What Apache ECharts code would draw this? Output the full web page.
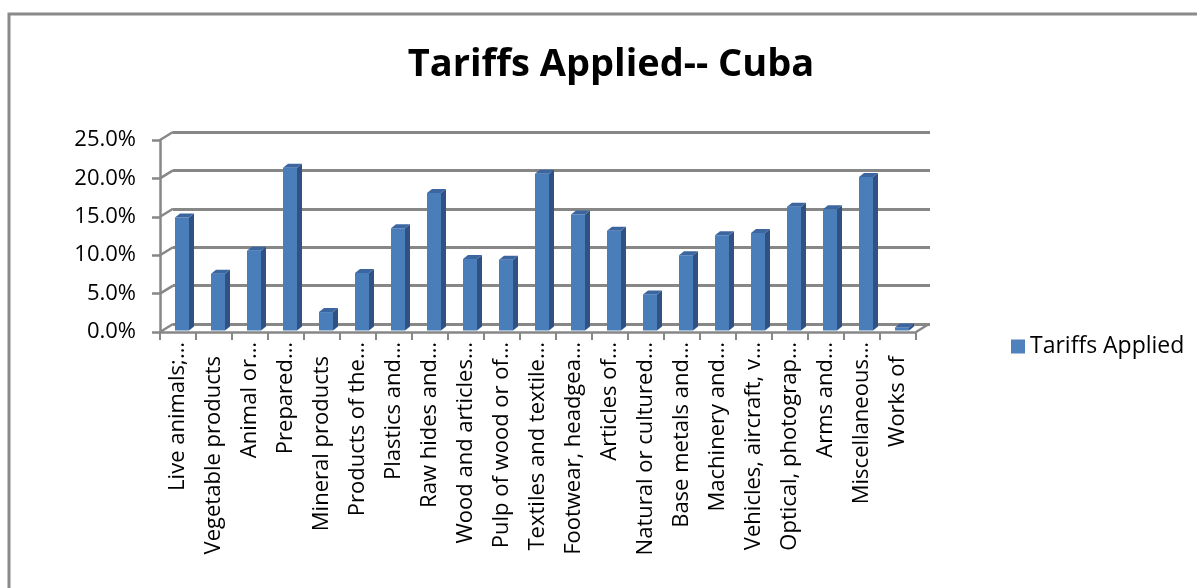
<!DOCTYPE html>
<html>
<head>
<meta charset="utf-8">
<script src="https://cdn.jsdelivr.net/npm/echarts@6/dist/echarts.min.js"></script>
<style>
html,body{margin:0;padding:0;background:#fff;}
#chart{width:1197px;height:588px;}
</style>
</head>
<body>
<div id="chart"></div>
<script>
const categories = [
  "Live animals;…", "Vegetable products", "Animal or…", "Prepared…", "Mineral products",
  "Products of the…", "Plastics and…", "Raw hides and…", "Wood and articles…", "Pulp of wood or of…",
  "Textiles and textile…", "Footwear, headgea…", "Articles of…", "Natural or cultured…", "Base metals and…",
  "Machinery and…", "Vehicles, aircraft, v…", "Optical, photograp…", "Arms and…", "Miscellaneous…", "Works of"
];
const tariffsApplied = [14.7, 7.4, 10.4, 21.2, 2.4, 7.5, 13.3, 17.9, 9.3, 9.2, 20.4, 15.1, 13.0, 4.7, 9.8, 12.4, 12.7, 16.1, 15.8, 20.0, 0.4];
const yTicks = [0, 5, 10, 15, 20, 25];
const seriesName = "Tariffs Applied";
const titleText = "Tariffs Applied-- Cuba";

const chart = echarts.init(document.getElementById('chart'), null, {renderer: 'canvas'});
const FONT = "'Open Sans', Lato, sans-serif";
const GRID_COLOR = '#878787';
const DX = 13, DY = -8;

function barRender(params, api) {
  const i = api.value(0), v = api.value(1);
  const base = api.coord([i, 0]);
  const top = api.coord([i, v]);
  const x0 = base[0] - 3, w = 14, d = 5, e = -4;
  const yb = base[1] - 1.5, yt = top[1] - 1.5;
  return {
    type: 'group',
    children: [
      {type: 'rect', shape: {x: x0, y: yt, width: w, height: yb - yt}, style: {fill: '#4a7ebb'}},
      {type: 'polygon', shape: {points: [[x0 + w, yt], [x0 + w + d, yt + e], [x0 + w + d, yb + e], [x0 + w, yb]]}, style: {fill: '#2f5282'}},
      {type: 'polygon', shape: {points: [[x0, yt], [x0 + w, yt], [x0 + w + d, yt + e], [x0 + d, yt + e]]}, style: {fill: '#3c66a0'}}
    ]
  };
}

function diagRender(params, api) {
  const v = api.value(0);
  const y = api.coord([0, v])[1];
  const x = params.coordSys.x;
  const lines = [{type: 'line', shape: {x1: x, y1: y, x2: x + DX, y2: y + DY}, style: {stroke: GRID_COLOR, lineWidth: 2.5}}];
  if (v === 0) {
    const xr = params.coordSys.x + params.coordSys.width;
    lines.push({type: 'line', shape: {x1: xr, y1: y, x2: xr + DX, y2: y + DY}, style: {stroke: GRID_COLOR, lineWidth: 2.5}});
  }
  return {type: 'group', children: lines};
}

const categoryData = categories.map(c => c.endsWith('…') ? c : {value: c, textStyle: {padding: [0, 14, 0, 0]}});

const option = {
  backgroundColor: '#fff',
  animation: false,
  title: {
    text: titleText, left: 606, top: 41, textAlign: 'center',
    textStyle: {fontFamily: FONT, fontWeight: 'bold', fontSize: 38, color: '#000'}
  },
  graphic: [{
    type: 'rect', shape: {x: 9, y: 14, width: 1300, height: 700},
    style: {fill: 'none', stroke: '#8a8a8a', lineWidth: 3}, z: -10
  }],
  legend: {
    data: [seriesName], left: 1006, top: 330, icon: 'rect', itemWidth: 14, itemHeight: 14, itemGap: 6,
    textStyle: {fontFamily: FONT, fontSize: 23, color: '#000'}
  },
  grid: [
    {left: 160, top: 140, width: 756, height: 192, containLabel: false, outerBoundsMode: 'none'},
    {left: 173, top: 132, width: 757, height: 192, containLabel: false, outerBoundsMode: 'none'}
  ],
  xAxis: [
    {
      type: 'category', gridIndex: 0, data: categoryData, boundaryGap: true,
      axisLine: {lineStyle: {color: GRID_COLOR, width: 2.5}},
      axisTick: {show: true, length: 8, inside: false, lineStyle: {color: GRID_COLOR, width: 2}},
      axisLabel: {rotate: 90, interval: 0, margin: 10, fontFamily: FONT, fontSize: 22, color: '#000'}
    },
    {type: 'category', gridIndex: 1, data: categories, show: false}
  ],
  yAxis: [
    {
      type: 'value', gridIndex: 0, min: 0, max: 25, interval: 5,
      axisLine: {show: true, lineStyle: {color: GRID_COLOR, width: 2.5}},
      axisTick: {show: true, length: 8, lineStyle: {color: GRID_COLOR, width: 2.5}},
      splitLine: {show: false},
      axisLabel: {margin: 24, fontFamily: FONT, fontSize: 22, color: '#000', formatter: v => v.toFixed(1) + '%'}
    },
    {
      type: 'value', gridIndex: 1, min: 0, max: 25, interval: 5,
      axisLine: {show: false}, axisTick: {show: false}, axisLabel: {show: false},
      splitLine: {show: true, lineStyle: {color: GRID_COLOR, width: 3}}
    }
  ],
  series: [
    {
      type: 'custom', name: 'diag', xAxisIndex: 0, yAxisIndex: 0,
      data: yTicks.map(v => [v]), encode: {y: 0}, renderItem: diagRender, silent: true, z: 1
    },
    {
      type: 'custom', name: seriesName, xAxisIndex: 0, yAxisIndex: 0,
      itemStyle: {color: '#4f81bd'},
      data: tariffsApplied.map((v, i) => [i, v]), encode: {x: 0, y: 1},
      renderItem: barRender, z: 5
    }
  ]
};
chart.setOption(option);
</script>
</body>
</html>
